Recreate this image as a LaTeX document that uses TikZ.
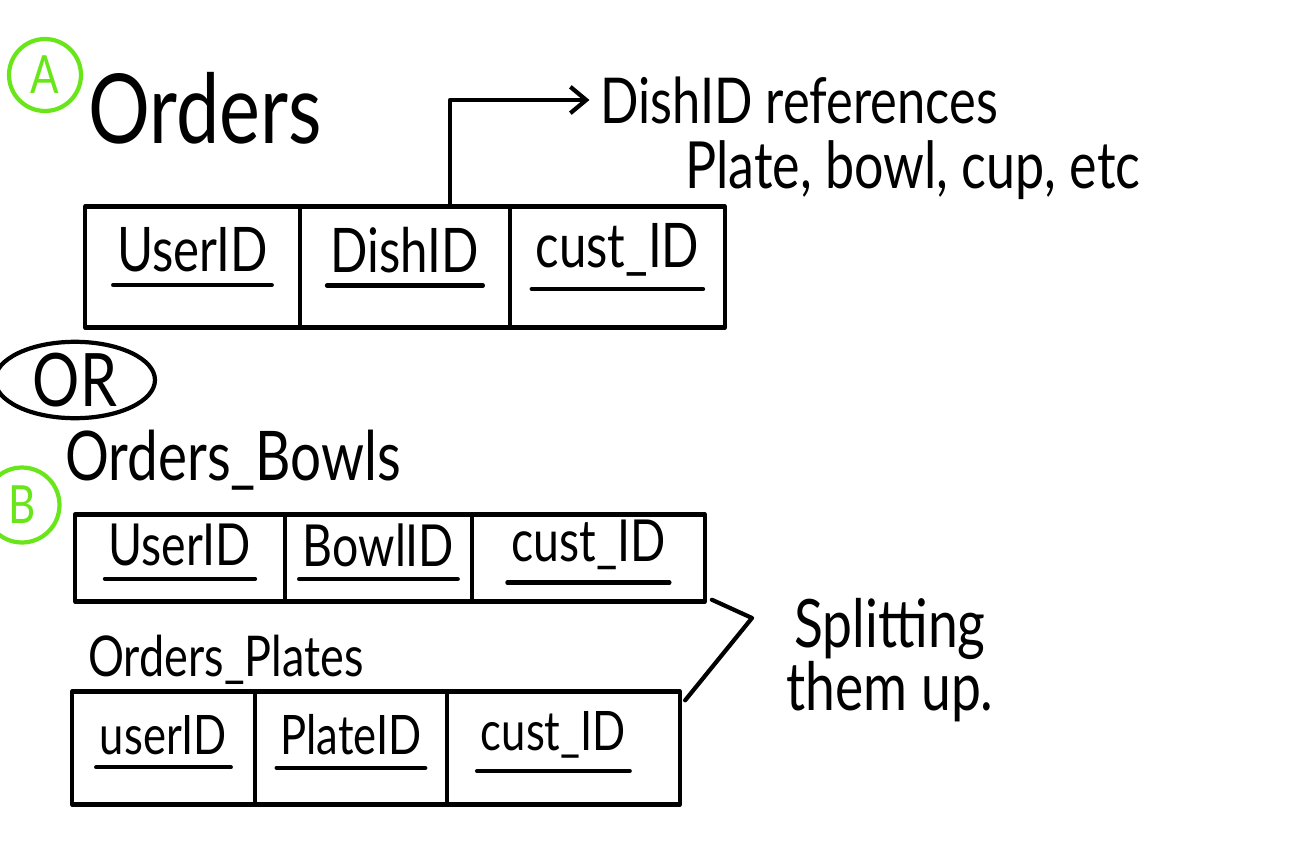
\documentclass[tikz,border=0pt]{standalone}
\usepackage{fontspec}
\setmainfont{Lato}[FakeStretch=0.8]
\usetikzlibrary{positioning,shapes.geometric,arrows.meta}
\definecolor{handgreen}{RGB}{104,230,26}
\tikzset{
>={Straight Barb[length=9pt,width=15pt]},
  pen/.style={line width=2.4pt, line cap=round, line join=round},
  cell/.style={
    rectangle,
    draw, pen,
    outer sep=0pt,
    inner sep=0pt,
    minimum height=#1},
  cell/.default=2cm,
  key/.style={
    font=\fontsize{35}{40}\selectfont,
    inner sep=2pt,
    append after command={([yshift=-5pt]\tikzlastnode.south west)
      edge[pen] ([yshift=-5pt]\tikzlastnode.south east)}},
  title/.style={font=\fontsize{39}{42}\selectfont, inner sep=0pt},
  note/.style={font=\fontsize{36}{40}\selectfont, inner sep=0pt},
  tag/.style={
    circle,
    draw=handgreen, pen,
    text=handgreen,
    font=\fontsize{30}{32}\selectfont,
    minimum size=1.44cm},
}

\begin{document}
\begin{tikzpicture}[x=0.02cm, y=-0.02cm]
  \useasboundingbox (0,0) rectangle (1292,855);
  % Option A: one table for every dish
  \node[tag] (tagA) at (45,75) {A};
  \node[title, anchor=west, font=\fontsize{55}{58}\selectfont] (orders) at (88,108) {Orders};
  \node[cell=2.42cm, minimum width=4.3cm, anchor=west] (ordUser) at (85,267) {};
  \node[cell=2.42cm, minimum width=4.2cm, right=0pt of ordUser] (ordDish) {};
  \node[cell=2.42cm, minimum width=4.3cm, right=0pt of ordDish] (ordCust) {};
  \node[key] (ordUserTxt) at ([yshift=.34cm]ordUser) {UserID};
  \node[key] (ordDishTxt) at ([yshift=.34cm]ordDish) {DishID};
  \node[key] (ordCustTxt) at ([yshift=.34cm]ordCust) {cust\_ID};
  \node[note, anchor=west] (dishref) at (600,100) {DishID references};
  \node[note, anchor=west, font=\fontsize{37}{40}\selectfont] (dishkinds) at (685,170) {Plate, bowl, cup, etc};
  \draw[pen, ->] ([xshift=.9cm]ordDish.north) |- ([xshift=-6pt]dishref.west);
  % or ...
  \node[ellipse, draw, pen, minimum width=3.2cm, minimum height=1.44cm,
    inner sep=0pt, font=\fontsize{42}{44}\selectfont] (orSign) at (75,380) {OR};
  % Option B: one table for each kind of dish
  \node[tag, minimum size=1.5cm] (tagB) at (22,505) {B};
  \node[title, anchor=west] (bowls) at (65,460) {Orders\_Bowls};
  \node[cell=1.74cm, minimum width=4.2cm, anchor=west] (bowlUser) at (75,558) {};
  \node[cell=1.74cm, minimum width=3.74cm, right=0pt of bowlUser] (bowlId) {};
  \node[cell=1.74cm, minimum width=4.66cm, right=0pt of bowlId] (bowlCust) {};
  \node[key, font=\fontsize{33}{36}\selectfont] (bowlUserTxt) at ([yshift=.26cm]bowlUser) {UserID};
  \node[key, font=\fontsize{33}{36}\selectfont] (bowlIdTxt) at ([yshift=.26cm]bowlId) {BowlID};
  \node[key, font=\fontsize{33}{36}\selectfont] (bowlCustTxt) at ([yshift=.26cm]bowlCust) {cust\_ID};
  \node[title, anchor=west, font=\fontsize{32}{35}\selectfont] (plates) at (88,660) {Orders\_Plates};
  \node[cell=2.26cm, minimum width=3.66cm, anchor=west] (plateUser) at (72,748) {};
  \node[cell=2.26cm, minimum width=3.84cm, right=0pt of plateUser] (plateId) {};
  \node[cell=2.26cm, minimum width=4.66cm, right=0pt of plateId] (plateCust) {};
  \node[key, font=\fontsize{31}{34}\selectfont] (plateUserTxt) at ([yshift=.26cm]plateUser) {userID};
  \node[key, font=\fontsize{31}{34}\selectfont] (plateIdTxt) at ([yshift=.26cm]plateId) {PlateID};
  \node[key, font=\fontsize{31}{34}\selectfont] (plateCustTxt) at ([shift={(-.2cm,.26cm)}]plateCust) {cust\_ID};
  %% the bracket joining both tables
  \coordinate (splitTip) at (752,618);
  \node[note, align=center, font=\fontsize{38}{34}\selectfont] (splitting) at (890,660) {Splitting\\them up.};
  \draw[pen] ([shift={(4pt,1pt)}]bowlCust.south east) -- (splitTip)
    -- ([shift={(3pt,-5pt)}]plateCust.north east);
\end{tikzpicture}
\end{document}
